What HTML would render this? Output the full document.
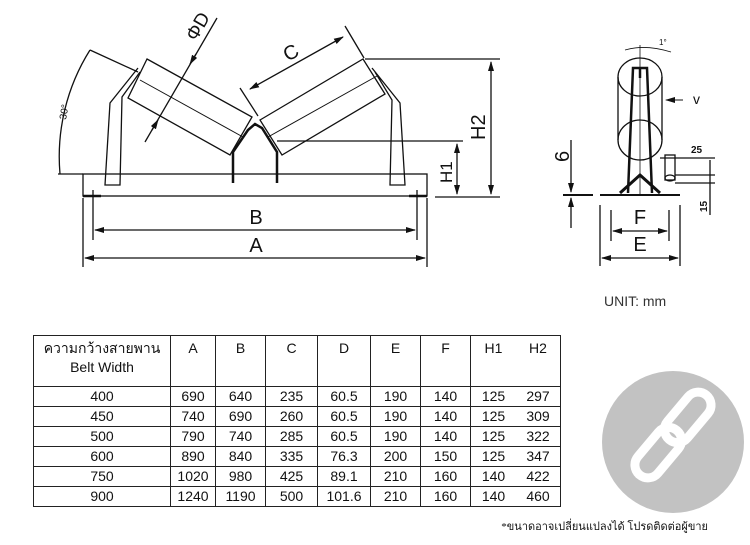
<!DOCTYPE html>
<html><head><meta charset="utf-8"><style>
body{margin:0;background:#fff;width:750px;height:545px;overflow:hidden;position:relative;font-family:"Liberation Sans",sans-serif}
svg{position:absolute;left:0;top:0}
table{position:absolute;left:33px;top:335px;border-collapse:collapse;font-family:"Liberation Sans","Noto Sans CJK SC",sans-serif;font-size:14px;color:#111}
td{border:1.5px solid #222;text-align:center;padding:0;height:19px;line-height:19px}
td.h{vertical-align:top;height:47px;line-height:19px;padding-top:3px}
td.nb{border-right:none}
td.nl{border-left:none}
</style></head><body>
<svg width="750" height="545" viewBox="0 0 750 545" fill="none" stroke="#111" stroke-width="1.3" font-family="Liberation Sans, sans-serif">
<defs>
<marker id="ar" markerWidth="10" markerHeight="6" refX="9" refY="3" orient="auto-start-reverse" markerUnits="userSpaceOnUse"><path d="M0,0 L10,3 L0,6 Z" fill="#111" stroke="none"/></marker>
</defs>
<rect x="83" y="174" width="344" height="22"/>
<line x1="58" y1="174" x2="83" y2="174"/>
<path d="M83,196 h18 M409,196 h18" stroke-width="2.5"/>
<polyline points="138,68 110,103 105,185 120,185 122,97 140,72"/>
<polyline points="372,68 400,103 405,185 390,185 392,100 375,72"/>
<polygon points="147,59 252,117 230,155 128,98"/>
<line x1="140" y1="80" x2="243" y2="137" stroke-width="1"/>
<polygon points="260,120 363,59 385,94 282,155"/>
<line x1="268" y1="137" x2="377" y2="76" stroke-width="1"/>
<polyline points="233,183 233,152 248,130 255,124 262,128 277,152 277,183" stroke-width="2.5"/>
<line x1="145" y1="142" x2="217" y2="18"/>
<line x1="152" y1="130" x2="158" y2="120" marker-end="url(#ar)"/>
<line x1="196" y1="54" x2="190" y2="64" marker-end="url(#ar)"/>
<text transform="translate(196,42) rotate(-60)" font-size="19" fill="#111" stroke="none">ΦD</text>
<line x1="90" y1="50" x2="138" y2="72"/>
<path d="M60,174 A200,200 0 0 1 90,50"/>
<text transform="translate(66,120) rotate(-80)" font-size="10" fill="#111" stroke="none">30°</text>
<line x1="240" y1="88" x2="258" y2="116"/>
<line x1="345" y1="26" x2="364" y2="58"/>
<line x1="250" y1="89" x2="343" y2="37" marker-start="url(#ar)" marker-end="url(#ar)"/>
<text transform="translate(288,62) rotate(-30)" font-size="20" fill="#111" stroke="none">C</text>
<line x1="365" y1="59" x2="500" y2="59"/>
<line x1="435" y1="197" x2="500" y2="197"/>
<line x1="491" y1="62" x2="491" y2="194" marker-start="url(#ar)" marker-end="url(#ar)"/>
<text transform="translate(485,140) rotate(-90)" font-size="20" fill="#111" stroke="none">H2</text>
<line x1="277" y1="141" x2="463" y2="141"/>
<line x1="457" y1="144" x2="457" y2="194" marker-start="url(#ar)" marker-end="url(#ar)"/>
<text transform="translate(452,183) rotate(-90)" font-size="17" fill="#111" stroke="none">H1</text>
<line x1="93" y1="190" x2="93" y2="240"/><line x1="417" y1="190" x2="417" y2="240"/>
<line x1="95" y1="230" x2="415" y2="230" marker-start="url(#ar)" marker-end="url(#ar)"/>
<text x="256" y="224" font-size="20" text-anchor="middle" fill="#111" stroke="none">B</text>
<line x1="83" y1="198" x2="83" y2="267"/><line x1="427" y1="198" x2="427" y2="267"/>
<line x1="85" y1="258" x2="425" y2="258" marker-start="url(#ar)" marker-end="url(#ar)"/>
<text x="256" y="252" font-size="20" text-anchor="middle" fill="#111" stroke="none">A</text>

<line x1="640" y1="45" x2="640" y2="196" stroke-width="0.8"/>
<path d="M625,50 Q645,44 671,52" stroke-width="0.8"/>
<text x="659" y="45" font-size="8" fill="#111" stroke="none">1°</text>
<ellipse cx="640" cy="77" rx="22" ry="19"/>
<ellipse cx="640" cy="140" rx="22" ry="20"/>
<line x1="618" y1="77" x2="618" y2="140"/><line x1="662" y1="77" x2="662" y2="140"/>
<polyline points="628,193 633,68 647,68 652,193" stroke-width="2.5"/>
<line x1="640" y1="68" x2="640" y2="78" stroke-width="2.5"/>
<polyline points="620,193 640,175 660,193" stroke-width="3"/>
<line x1="600" y1="195" x2="680" y2="195" stroke-width="2"/>
<line x1="563" y1="195" x2="593" y2="195" stroke-width="2"/>
<line x1="683" y1="100" x2="666" y2="100" marker-end="url(#ar)" stroke-width="1"/>
<text x="693" y="104" font-size="14" fill="#111" stroke="none">v</text>
<line x1="571" y1="140" x2="571" y2="192" marker-end="url(#ar)"/>
<line x1="571" y1="228" x2="571" y2="198" marker-end="url(#ar)"/>
<text transform="translate(569,162) rotate(-90)" font-size="20" fill="#111" stroke="none">6</text>
<rect x="665" y="155" width="10" height="25"/>
<ellipse cx="670" cy="178" rx="5" ry="3"/>
<line x1="660" y1="158" x2="715" y2="158"/>
<line x1="675" y1="175" x2="715" y2="175"/>
<line x1="675" y1="183" x2="715" y2="183"/>
<line x1="710" y1="160" x2="710" y2="215"/>
<text x="691" y="153" font-size="10" font-weight="bold" fill="#111" stroke="none">25</text>
<text transform="translate(707,212) rotate(-90)" font-size="10" font-weight="bold" fill="#111" stroke="none">15</text>
<line x1="611" y1="210" x2="611" y2="241"/><line x1="669" y1="210" x2="669" y2="241"/>
<line x1="613" y1="231" x2="667" y2="231" marker-start="url(#ar)" marker-end="url(#ar)"/>
<text x="640" y="224" font-size="20" text-anchor="middle" fill="#111" stroke="none">F</text>
<line x1="600" y1="205" x2="600" y2="266"/><line x1="680" y1="205" x2="680" y2="266"/>
<line x1="602" y1="258" x2="678" y2="258" marker-start="url(#ar)" marker-end="url(#ar)"/>
<text x="640" y="251" font-size="20" text-anchor="middle" fill="#111" stroke="none">E</text>
<text x="604" y="306" font-size="14" fill="#333" stroke="none">UNIT: mm</text>

<circle cx="673" cy="442" r="71" fill="#c2c2c2" stroke="none"/>
<g transform="translate(673,435) rotate(-50)" stroke="#fff" stroke-width="9">
<rect x="-52" y="-13" width="58" height="26" rx="13"/>
<rect x="-6" y="-13" width="58" height="26" rx="13"/>
</g>
<text x="708" y="530" font-size="11" text-anchor="end" fill="#111" stroke="none" font-family="Liberation Serif, Noto Serif CJK SC, serif">*ขนาดอาจเปลี่ยนแปลงได้ โปรดติดต่อผู้ขาย</text>
</svg>
<table>
<tr><td class="h" style="width:136px">ความกว้างสายพาน<br>Belt Width</td><td class="h" style="width:44px">A</td><td class="h" style="width:49px">B</td><td class="h" style="width:51px">C</td><td class="h" style="width:52px">D</td><td class="h" style="width:49px">E</td><td class="h" style="width:49px">F</td><td class="h nb" style="width:45px">H1</td><td class="h nl" style="width:44px">H2</td></tr>
<tr><td>400</td><td>690</td><td>640</td><td>235</td><td>60.5</td><td>190</td><td>140</td><td class="nb">125</td><td class="nl">297</td></tr>
<tr><td>450</td><td>740</td><td>690</td><td>260</td><td>60.5</td><td>190</td><td>140</td><td class="nb">125</td><td class="nl">309</td></tr>
<tr><td>500</td><td>790</td><td>740</td><td>285</td><td>60.5</td><td>190</td><td>140</td><td class="nb">125</td><td class="nl">322</td></tr>
<tr><td>600</td><td>890</td><td>840</td><td>335</td><td>76.3</td><td>200</td><td>150</td><td class="nb">125</td><td class="nl">347</td></tr>
<tr><td>750</td><td>1020</td><td>980</td><td>425</td><td>89.1</td><td>210</td><td>160</td><td class="nb">140</td><td class="nl">422</td></tr>
<tr><td>900</td><td>1240</td><td>1190</td><td>500</td><td>101.6</td><td>210</td><td>160</td><td class="nb">140</td><td class="nl">460</td></tr>
</table>
</body></html>
